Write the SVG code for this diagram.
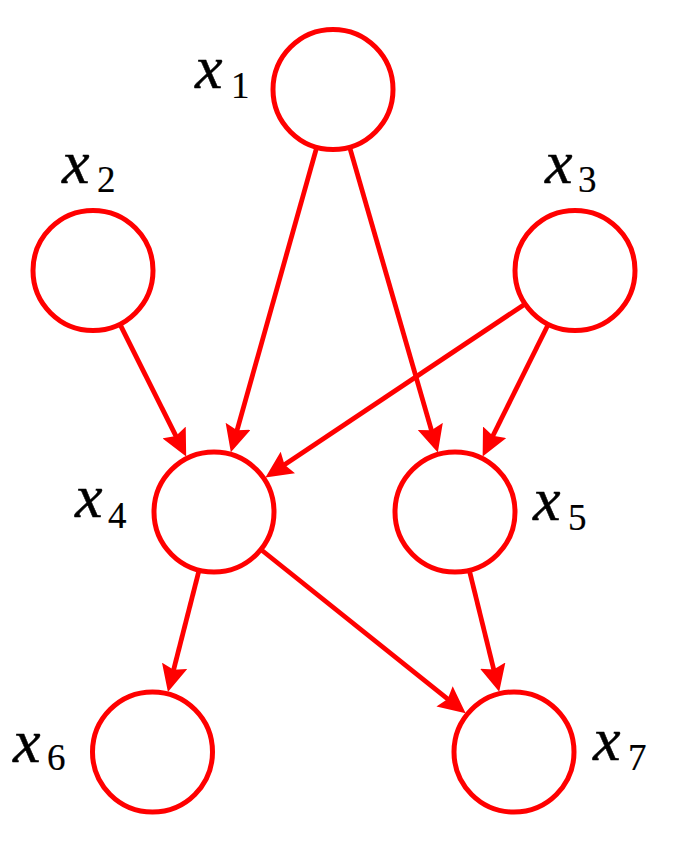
<svg xmlns="http://www.w3.org/2000/svg" width="678" height="842" viewBox="0 0 678 842">
  <style>
    .node { fill: #ffffff; stroke: #ff0000; stroke-width: 5; }
    .edge { fill: none; stroke: #ff0000; stroke-width: 4.8; marker-end: url(#arrow); }
    .lbl { font-family: "Liberation Serif", "Times New Roman", serif; fill: #000000; stroke: #000000; }
    .var { font-style: italic; font-size: 62px; stroke-width: 0.5; }
    .sub { font-size: 37px; stroke-width: 0.2; }
  </style>
  <defs>
    <marker id="arrow" viewBox="0 0 27 26" refX="19" refY="13" markerWidth="27" markerHeight="26" markerUnits="userSpaceOnUse" orient="auto">
      <path d="M0,0 L27,13 L0,26 L4,13 Z" fill="#ff0000"/>
    </marker>
  </defs>
  <rect width="678" height="842" fill="#ffffff"/>
  <g id="connectors">
    <line class="edge" x1="316.7" y1="147.3" x2="233.0" y2="444.6"/>
    <line class="edge" x1="349.6" y1="147.1" x2="435.6" y2="444.7"/>
    <line class="edge" x1="119.9" y1="324.1" x2="182.6" y2="449.4"/>
    <line class="edge" x1="525.1" y1="303.9" x2="272.1" y2="473.1"/>
    <line class="edge" x1="548.3" y1="324.2" x2="486.2" y2="449.3"/>
    <line class="edge" x1="199.1" y1="570.1" x2="169.9" y2="684.3"/>
    <line class="edge" x1="260.9" y1="549.5" x2="459.4" y2="708.3"/>
    <line class="edge" x1="469.3" y1="570.3" x2="497.3" y2="684.0"/>
  </g>
  <g id="x1">
    <circle class="node" cx="333" cy="89.5" r="60"/>
    <text class="lbl var" x="195" y="88">x</text><text class="lbl sub" x="231" y="98">1</text>
  </g>
  <g id="x2">
    <circle class="node" cx="93" cy="270.5" r="60"/>
    <text class="lbl var" x="62" y="183">x</text><text class="lbl sub" x="97" y="192">2</text>
  </g>
  <g id="x3">
    <circle class="node" cx="575" cy="270.5" r="60"/>
    <text class="lbl var" x="545" y="183">x</text><text class="lbl sub" x="578" y="192">3</text>
  </g>
  <g id="x4">
    <circle class="node" cx="214" cy="512" r="60"/>
    <text class="lbl var" x="75" y="517">x</text><text class="lbl sub" x="108" y="528">4</text>
  </g>
  <g id="x5">
    <circle class="node" cx="455" cy="512" r="60"/>
    <text class="lbl var" x="533" y="520">x</text><text class="lbl sub" x="568" y="530">5</text>
  </g>
  <g id="x6">
    <circle class="node" cx="152.5" cy="752" r="60"/>
    <text class="lbl var" x="13" y="762">x</text><text class="lbl sub" x="47" y="770">6</text>
  </g>
  <g id="x7">
    <circle class="node" cx="514" cy="752" r="60"/>
    <text class="lbl var" x="593" y="760">x</text><text class="lbl sub" x="628" y="770">7</text>
  </g>
</svg>
